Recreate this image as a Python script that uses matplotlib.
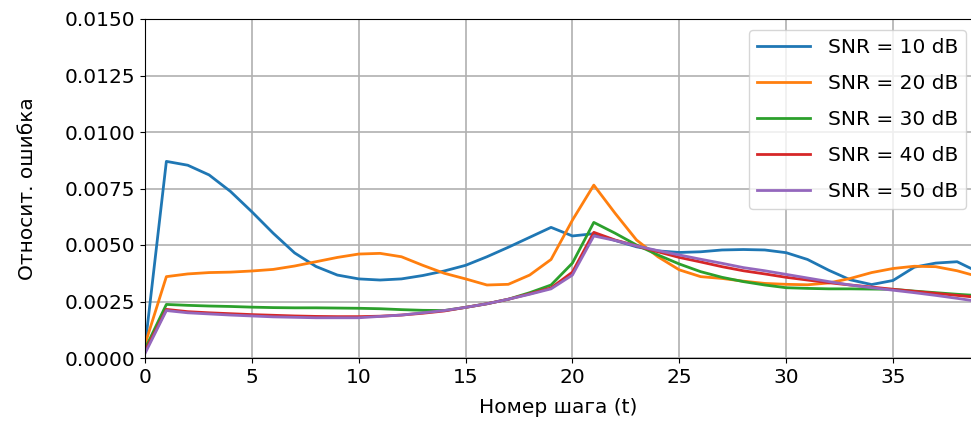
import matplotlib
matplotlib.use("Agg")
import matplotlib.pyplot as plt
import numpy as np
from matplotlib.ticker import FormatStrFormatter

steps = np.arange(40)

snr_labels = ["SNR = 10 dB", "SNR = 20 dB", "SNR = 30 dB", "SNR = 40 dB", "SNR = 50 dB"]

err_snr10 = [0.0005, 0.0087, 0.00853, 0.0081, 0.00737, 0.00647, 0.00552, 0.00465, 0.00405, 0.00367,
             0.0035, 0.00345, 0.0035, 0.00365, 0.00385, 0.0041, 0.00448, 0.0049, 0.00534, 0.00578,
             0.0054, 0.0055, 0.0052, 0.00492, 0.00474, 0.00467, 0.0047, 0.00478, 0.0048, 0.00478,
             0.00466, 0.00436, 0.00388, 0.00346, 0.00325, 0.00343, 0.00402, 0.0042, 0.00426, 0.0038]
err_snr20 = [0.0006, 0.0036, 0.00372, 0.00378, 0.0038, 0.00385, 0.00392, 0.00407, 0.00426, 0.00445,
             0.0046, 0.00463, 0.00448, 0.0041, 0.00375, 0.0035, 0.00323, 0.00326, 0.00367, 0.00436,
             0.0061, 0.00765, 0.0064, 0.00522, 0.00448, 0.0039, 0.0036, 0.00352, 0.0034, 0.0033,
             0.00326, 0.00324, 0.00332, 0.00352, 0.00378, 0.00396, 0.00406, 0.00404, 0.00386, 0.0036]
err_snr30 = [0.0004, 0.00237, 0.00233, 0.0023, 0.00228, 0.00225, 0.00223, 0.00222, 0.00222, 0.00221,
             0.0022, 0.00218, 0.00214, 0.00211, 0.0021, 0.00224, 0.0024, 0.0026, 0.00289, 0.00323,
             0.0042, 0.006, 0.00552, 0.005, 0.00456, 0.00416, 0.00382, 0.00357, 0.00338, 0.00323,
             0.00311, 0.00308, 0.00306, 0.00306, 0.00305, 0.00304, 0.00296, 0.00289, 0.00282, 0.00276]
err_snr40 = [0.0003, 0.00215, 0.00205, 0.002, 0.00196, 0.00192, 0.00189, 0.00186, 0.00184, 0.00183,
             0.00183, 0.00185, 0.0019, 0.00198, 0.00208, 0.00224, 0.0024, 0.0026, 0.00284, 0.0031,
             0.0038, 0.00556, 0.00522, 0.00496, 0.0047, 0.00445, 0.00425, 0.00404, 0.00386, 0.00372,
             0.00357, 0.00345, 0.00333, 0.00323, 0.00314, 0.00304, 0.00295, 0.00286, 0.00277, 0.00268]
err_snr50 = [0.0002, 0.0021, 0.002, 0.00195, 0.0019, 0.00186, 0.00182, 0.0018, 0.00178, 0.00178,
             0.00178, 0.00184, 0.0019, 0.002, 0.0021, 0.00224, 0.0024, 0.0026, 0.00282, 0.00306,
             0.00367, 0.0054, 0.0052, 0.00496, 0.00475, 0.00456, 0.00437, 0.00419, 0.004, 0.00386,
             0.0037, 0.00354, 0.00338, 0.00323, 0.00311, 0.003, 0.00289, 0.00277, 0.00264, 0.0025]

all_errors = [err_snr10, err_snr20, err_snr30, err_snr40, err_snr50]

plt.rcParams["font.size"] = 14.5

fig = plt.figure(figsize=(9.71, 4.32), dpi=100)
ax = fig.add_axes([145 / 971, 74 / 432, 1 - 145 / 971, 339 / 432])

for errs, label in zip(all_errors, snr_labels):
    ax.plot(steps, errs, lw=2, label=label)

ax.set_xlim(0, 38.65)
ax.set_ylim(0, 0.015)
ax.set_xticks(np.arange(0, 36, 5))
ax.set_yticks(np.arange(0, 0.0151, 0.0025))
ax.yaxis.set_major_formatter(FormatStrFormatter("%.4f"))
ax.spines["right"].set_visible(False)
ax.grid(True, color="#b0b0b0", lw=1.2)
ax.set_xlabel("Номер шага (t)", labelpad=8)
ax.set_ylabel("Относит. ошибка", labelpad=20)
ax.legend(loc="upper right", bbox_to_anchor=(0.994, 0.968), borderaxespad=0,
          labelspacing=0.85, handlelength=2.6, handletextpad=0.9)

fig.savefig("out.png", dpi=100)
